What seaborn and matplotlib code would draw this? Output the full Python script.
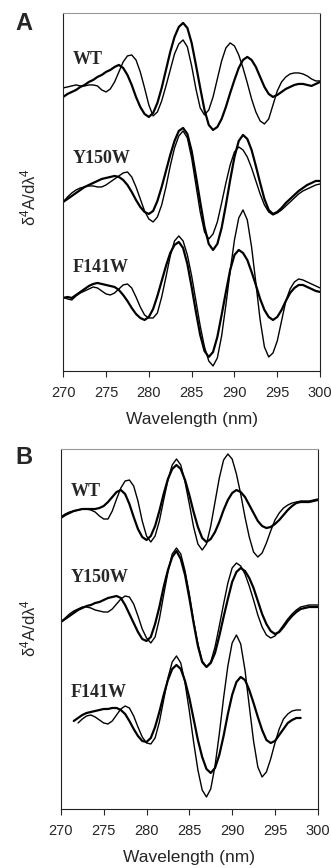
import numpy as np
import pandas as pd
import seaborn as sns
import matplotlib
matplotlib.use("Agg")
import matplotlib.pyplot as plt

# fourth-derivative spectra (arbitrary units, stacked)
wavelength = np.arange(270, 300.01, 0.5)
traces = ['WT', 'Y150W', 'F141W']
nan = np.nan

# panel A
a_wt_thick = [274, 277, 279, 281, 284, 286, 289, 291, 294, 296,
              299, 301, 304, 306, 303, 296, 286, 274, 264, 257,
              254, 258, 268, 283, 301, 319, 334, 344, 348, 343,
              328, 306, 283, 261, 246, 241, 244, 252, 264, 278,
              291, 303, 311, 314, 311, 304, 294, 284, 277, 274,
              276, 279, 282, 284, 286, 287, 287, 286, 285, 287, 289]
a_wt_thin = [283, 284, 285, 286, 285, 285, 286, 286, 285, 281,
             279, 282, 289, 299, 309, 315, 316, 311, 299, 283,
             266, 255, 259, 270, 285, 301, 317, 327, 331, 324,
             305, 282, 263, 256, 261, 274, 292, 310, 323, 328,
             325, 316, 303, 288, 272, 259, 250, 247, 252, 266,
             280, 289, 294, 297, 298, 298, 297, 295, 292, 290, 290]
a_y_thick = [169, 172, 175, 178, 181, 184, 186, 188, 190, 192,
             193, 194, 195, 194, 191, 186, 179, 171, 164, 159,
             157, 160, 170, 184, 200, 216, 230, 240, 243, 237,
             220, 195, 169, 144, 127, 121, 127, 143, 166, 191,
             214, 230, 236, 232, 221, 205, 188, 172, 161, 157,
             159, 163, 168, 172, 176, 180, 183, 186, 188, 190, 190]
a_y_thin = [169, 174, 178, 181, 183, 184, 185, 185, 184, 184,
            186, 189, 192, 195, 198, 199, 194, 184, 172, 160,
            152, 149, 154, 166, 184, 205, 223, 235, 240, 233,
            213, 186, 159, 139, 132, 137, 149, 168, 188, 206,
            219, 224, 221, 214, 203, 190, 177, 166, 159, 156,
            158, 161, 165, 169, 173, 177, 180, 182, 184, 186, 187]
a_f_thick = [73, 74, 73, 76, 79, 82, 85, 87, 88, 87,
             86, 85, 84, 81, 76, 70, 63, 57, 53, 51,
             54, 62, 75, 90, 105, 118, 126, 129, 123, 107,
             84, 59, 36, 20, 14, 19, 34, 56, 79, 101,
             116, 121, 118, 111, 99, 86, 72, 61, 54, 51,
             54, 61, 70, 78, 83, 86, 86, 84, 82, 80, 79]
a_f_thin = [74, 72, 71, 75, 78, 80, 82, 84, 83, 80,
            77, 76, 78, 82, 86, 87, 83, 74, 64, 56,
            53, 53, 58, 74, 94, 115, 130, 135, 130, 116,
            95, 70, 45, 24, 10, 5, 13, 35, 66, 100,
            131, 153, 161, 151, 124, 88, 51, 24, 14, 18,
            30, 50, 70, 82, 89, 92, 91, 89, 87, 85, 83]

# panel B
b_wt_thick = [291, 294, 296, 298, 299, 300, 300, 300, 300, 301,
              303, 307, 312, 317, 319, 315, 305, 292, 280, 272,
              269, 273, 283, 298, 315, 330, 340, 344, 340, 329,
              314, 297, 282, 271, 267, 270, 277, 287, 299, 309,
              316, 319, 317, 312, 304, 296, 288, 283, 281, 282,
              285, 289, 294, 299, 303, 306, 307, 307, 307, 308, 309]
b_wt_thin = [292, 295, 297, 298, 299, 300, 300, 299, 297, 293,
             290, 290, 298, 310, 321, 328, 329, 323, 308, 288,
             273, 267, 273, 288, 309, 329, 344, 350, 344, 327,
             305, 282, 265, 259, 265, 283, 307, 331, 349, 355,
             350, 335, 315, 292, 272, 257, 252, 256, 266, 278,
             289, 296, 301, 304, 306, 307, 308, 308, 308, 309, 310]
b_y_thick = [187, 190, 193, 196, 199, 201, 203, 204, 206, 207,
             209, 211, 212, 213, 211, 204, 195, 186, 177, 170,
             168, 172, 185, 202, 222, 239, 252, 258, 250, 234,
             211, 186, 163, 147, 142, 146, 156, 173, 192, 210,
             227, 237, 241, 238, 231, 221, 208, 195, 185, 178,
             175, 177, 182, 188, 193, 197, 200, 201, 202, 202, 202]
b_y_thin = [187, 191, 195, 198, 200, 202, 202, 201, 199, 198,
            197, 197, 200, 205, 210, 213, 212, 205, 193, 180,
            171, 166, 172, 190, 214, 237, 255, 261, 255, 238,
            215, 188, 165, 148, 142, 147, 162, 183, 205, 226,
            241, 246, 243, 235, 223, 209, 194, 182, 174, 171,
            173, 178, 184, 190, 195, 199, 202, 203, 204, 204, 204]
b_f_thick = [nan, nan, nan, 88, 91, 94, 96, 97, 98, 99,
             100, 100, 101, 101, 99, 95, 88, 80, 73, 68,
             67, 71, 82, 97, 114, 129, 140, 144, 140, 128,
             111, 90, 69, 52, 40, 36, 41, 54, 73, 95,
             114, 127, 132, 129, 119, 106, 92, 79, 69, 66,
             68, 74, 80, 86, 89, 91, 91, nan, nan, nan, nan]
b_f_thin = [nan, nan, nan, nan, 86, 90, 93, 94, 92, 89,
            86, 85, 88, 94, 100, 103, 101, 93, 82, 72,
            66, 65, 71, 87, 109, 131, 147, 153, 146, 126,
            98, 67, 39, 19, 12, 20, 43, 75, 111, 143,
            166, 174, 165, 139, 103, 68, 42, 32, 37, 50,
            66, 80, 90, 95, 98, 99, 99, nan, nan, nan, nan]

panels = {
    'A': {'WT': (a_wt_thick, a_wt_thin), 'Y150W': (a_y_thick, a_y_thin),
          'F141W': (a_f_thick, a_f_thin)},
    'B': {'WT': (b_wt_thick, b_wt_thin), 'Y150W': (b_y_thick, b_y_thin),
          'F141W': (b_f_thick, b_f_thin)},
}
label_y = {'A': [311, 212, 103], 'B': [318, 232, 116]}

rows = []
for p, d in panels.items():
    for t in traces:
        for form, vals in zip(['thick', 'thin'], d[t]):
            assert len(vals) == len(wavelength)
            for w, v in zip(wavelength, vals):
                rows.append((p, t, form, w, v))
df = pd.DataFrame(rows, columns=['panel', 'trace', 'form', 'wavelength', 'value'])

sns.set_style('white')
plt.rcParams['font.family'] = ['Liberation Sans', 'DejaVu Sans']
plt.rcParams['mathtext.fontset'] = 'custom'
plt.rcParams['mathtext.rm'] = 'Liberation Sans'
plt.rcParams['mathtext.default'] = 'regular'

fig = plt.figure(figsize=(3.31, 8.68), dpi=100)
axes = {
    'A': fig.add_axes([0.191, 0.5726, 0.776, 0.4125]),
    'B': fig.add_axes([0.184, 0.0680, 0.776, 0.4147]),
}
ylims = {'A': 358, 'B': 360}
widths = {'thick': 1.6, 'thin': 1.0}

for p, ax in axes.items():
    sub = df[df.panel == p]
    for (t, form), g in sub.groupby(['trace', 'form'], sort=False):
        sns.lineplot(data=g, x='wavelength', y='value', ax=ax, color='black',
                     lw=widths[form], estimator=None, sort=False)
    for t, y in zip(traces, label_y[p]):
        ax.text(271.15, y, t, ha='left', va='center', fontsize=13,
                fontweight='bold', family='Liberation Serif')
    ax.set_xlim(270, 300)
    ax.set_ylim(0, ylims[p])
    ax.set_xticks(range(270, 301, 5))
    ax.set_yticks([])
    ax.tick_params(axis='x', direction='out', length=4, width=0.8,
                   labelsize=10.5, pad=6.5, bottom=True)
    ax.set_xlabel('Wavelength (nm)', fontsize=12.5, labelpad=9)
    ax.set_ylabel('')
    for s in ax.spines.values():
        s.set_color('#222222')
        s.set_linewidth(0.8)
    ax.spines['top'].set_color('#999999')

fig.text(0.085, 1 - 197 / 868, r'δ$^4$A/dλ$^4$', rotation=90,
         ha='center', va='center', fontsize=12)
fig.text(0.085, 1 - 628 / 868, r'δ$^4$A/dλ$^4$', rotation=90,
         ha='center', va='center', fontsize=12)
fig.text(15 / 331, 1 - 23 / 868, 'A', fontsize=17, fontweight='bold',
         ha='left', va='center')
fig.text(15 / 331, 1 - 458 / 868, 'B', fontsize=17, fontweight='bold',
         ha='left', va='center')

fig.savefig('out.png', dpi=100)
